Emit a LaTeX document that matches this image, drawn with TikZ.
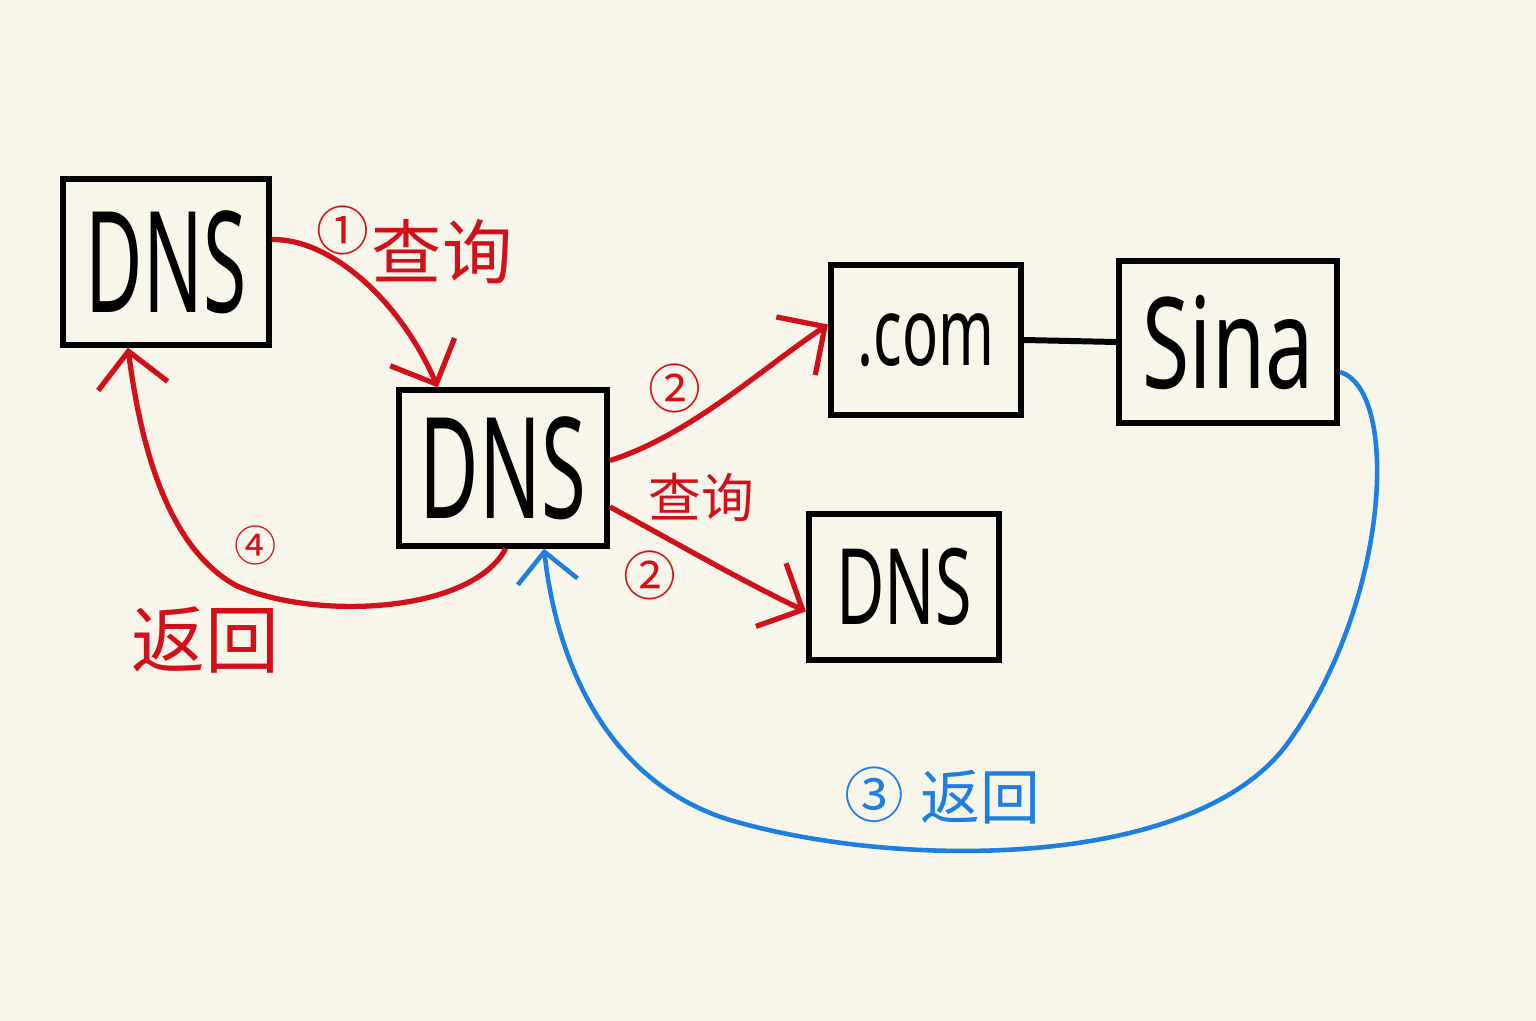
\documentclass[tikz,border=0pt]{standalone}
\usepackage{graphicx}
\usepackage{fontspec}
\setmainfont{Noto Sans}
\newfontfamily\cjk{Noto Sans CJK SC}
\usetikzlibrary{arrows.meta}
\definecolor{paper}{HTML}{F8F6EA}
\definecolor{pen}{HTML}{D0101A}
\definecolor{bluepen}{HTML}{1E7FE0}
\tikzset{
  box/.style={draw=black, line width=1.7pt, rectangle, inner sep=0pt},
  redarrow/.style={draw=pen, line width=1.5pt, -{Straight Barb[length=3.5mm,width=7mm,line width=1.5pt]}},
  bluearrow/.style={draw=bluepen, line width=1.3pt, -{Straight Barb[length=3mm,width=6mm,line width=1.3pt]}},
  redlabel/.style={text=pen, font=\cjk, inner sep=0pt},
  bluelabel/.style={text=bluepen, font=\cjk, inner sep=0pt}
}
\newcommand{\narrowtext}[3]{\fontsize{#1}{#1}\selectfont\scalebox{#2}[1]{#3}}
\begin{document}
\begin{tikzpicture}[x=0.01cm,y=-0.01cm]
\fill[paper] (0,0) rectangle (1536,1021);
\useasboundingbox (0,0) rectangle (1536,1021);

% boxes
\node[box, minimum width=2.05cm, minimum height=1.65cm] (b1) at (166,262) {\narrowtext{40}{0.56}{DNS}};
\node[box, minimum width=2.08cm, minimum height=1.55cm] (b2) at (503,468) {\narrowtext{40}{0.58}{DNS}};
\node[box, minimum width=1.9cm, minimum height=1.5cm] (b3) at (926,340) {\narrowtext{27}{0.63}{.com}};
\node[box, minimum width=2.18cm, minimum height=1.62cm] (b4) at (1228,342) {\narrowtext{36}{0.68}{Sina}};
\node[box, minimum width=1.9cm, minimum height=1.45cm] (b5) at (904,587) {\narrowtext{30}{0.63}{DNS}};

% connectors
\draw[line width=1.7pt] (b3.east) -- (b4.west);
\draw[redarrow] (b1.12) .. controls (330,238) and (400,300) .. (b2.129);
\draw[redarrow] (b2.4) .. controls (690,435) and (760,370) .. (b3.171);
\draw[redarrow] (b2.-20) .. controls (680,545) and (740,580) .. (b5.194);
\draw[redarrow] (b2.-88) .. controls (470,615) and (310,620) .. (235,585)
  .. controls (165,545) and (140,440) .. (b1.-114);
\draw[bluearrow] (b4.-15) .. controls (1400,390) and (1390,600) .. (1290,740)
  .. controls (1200,870) and (900,870) .. (730,820)
  .. controls (600,780) and (555,650) .. (b2.-63);

% labels
\node[redlabel, font=\cjk\fontsize{15}{15}\selectfont] (l1a) at (343,230) {①};
\node[redlabel, font=\cjk\fontsize{20}{20}\selectfont] (l1b) at (442,252) {查询};
\node[redlabel, font=\cjk\fontsize{15}{15}\selectfont] (l2a) at (675,388) {②};
\node[redlabel, font=\cjk\fontsize{15}{15}\selectfont] (l2q) at (701,497) {查询};
\node[redlabel, font=\cjk\fontsize{15}{15}\selectfont] (l2b) at (650,575) {②};
\node[redlabel, font=\cjk\fontsize{12}{12}\selectfont] (l4a) at (256,545) {④};
\node[redlabel, font=\cjk\fontsize{21}{21}\selectfont] (l4b) at (205,640) {返回};
\node[bluelabel, font=\cjk\fontsize{17}{17}\selectfont] (l3a) at (874,795) {③};
\node[bluelabel, font=\cjk\fontsize{17}{17}\selectfont] (l3b) at (980,797) {返回};
\end{tikzpicture}
\end{document}
